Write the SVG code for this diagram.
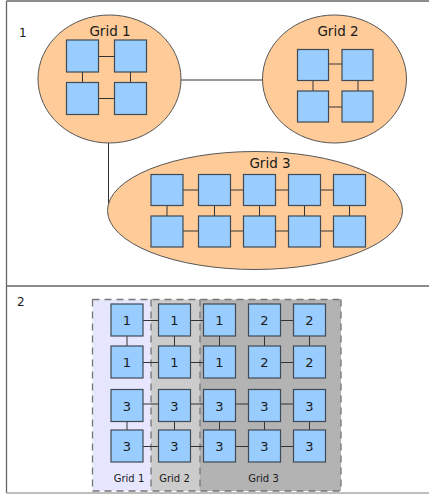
<svg xmlns="http://www.w3.org/2000/svg" width="429" height="494" viewBox="0 0 429 494">
<style>
text{font-family:"DejaVu Sans","Liberation Sans",sans-serif;fill:#1a1a1a;text-anchor:middle}
.frame{fill:none;stroke:#666;stroke-width:1.3}
.grid{fill:#ffcc99;stroke:#555;stroke-width:1}
.sq{fill:#99ccff;stroke:#3f4a55;stroke-width:1.2}
.ln{stroke:#333;stroke-width:1;fill:none}
.gl{font-size:13.5px}
.num{font-size:13px}
.sec{font-size:12px;text-anchor:start}
.bl{font-size:10px}
.reg{stroke:#777;stroke-width:1.3;stroke-dasharray:7,5}
</style>
<rect x="0" y="0" width="429" height="494" fill="#fff"/>
<g id="frame">
<line class="frame" x1="6.5" y1="1" x2="429" y2="1"/>
<line class="frame" x1="6.5" y1="1" x2="6.5" y2="493"/>
<line class="frame" x1="6.5" y1="286" x2="429" y2="286"/>
<line x1="6.5" y1="493" x2="429" y2="493" stroke="#aaa" stroke-width="1.3"/>
<text class="sec" x="19" y="37">1</text>
<text class="sec" x="17" y="306">2</text>
</g>
<g id="connectors">
<line class="ln" x1="181" y1="80" x2="263" y2="80"/>
<line class="ln" x1="108.5" y1="143" x2="108.5" y2="205"/>
</g>
<g id="grid1">
<ellipse class="grid" cx="109.5" cy="79" rx="71.5" ry="64"/>
<text class="gl" x="110" y="36">Grid 1</text>
<g class="ln"><line x1="98.5" y1="56.5" x2="114.5" y2="56.5"/><line x1="98.5" y1="98.5" x2="114.5" y2="98.5"/><line x1="82.5" y1="72" x2="82.5" y2="82.5"/><line x1="130.5" y1="72" x2="130.5" y2="82.5"/></g>
<rect class="sq" x="66.5" y="40" width="32" height="32"/>
<rect class="sq" x="114.5" y="40" width="32" height="32"/>
<rect class="sq" x="66.5" y="82.5" width="32" height="32"/>
<rect class="sq" x="114.5" y="82.5" width="32" height="32"/>
</g>
<g id="grid2">
<ellipse class="grid" cx="334.5" cy="79" rx="72" ry="64"/>
<text class="gl" x="338" y="36">Grid 2</text>
<g class="ln"><line x1="328.5" y1="64" x2="342" y2="64"/><line x1="328.5" y1="107" x2="342" y2="107"/><line x1="313" y1="80.5" x2="313" y2="91"/><line x1="358" y1="80.5" x2="358" y2="91"/></g>
<rect class="sq" x="297.5" y="49.5" width="31" height="31"/>
<rect class="sq" x="342" y="49.5" width="31" height="31"/>
<rect class="sq" x="297.5" y="91" width="31" height="31"/>
<rect class="sq" x="342" y="91" width="31" height="31"/>
</g>
<g id="grid3">
<ellipse class="grid" cx="255" cy="210.5" rx="147.5" ry="59"/>
<text class="gl" x="270" y="168">Grid 3</text>
<g class="ln">
<line x1="183" y1="190" x2="333.5" y2="190"/>
<line x1="183" y1="231" x2="333.5" y2="231"/>
<line x1="167" y1="205.5" x2="167" y2="216"/>
<line x1="214.5" y1="205.5" x2="214.5" y2="216"/>
<line x1="259.5" y1="205.5" x2="259.5" y2="216"/>
<line x1="304.5" y1="205.5" x2="304.5" y2="216"/>
<line x1="349.5" y1="205.5" x2="349.5" y2="216"/>
</g>
<rect class="sq" x="151" y="174.5" width="32" height="31"/>
<rect class="sq" x="198.5" y="174.5" width="32" height="31"/>
<rect class="sq" x="243.5" y="174.5" width="32" height="31"/>
<rect class="sq" x="288.5" y="174.5" width="32" height="31"/>
<rect class="sq" x="333.5" y="174.5" width="32" height="31"/>
<rect class="sq" x="151" y="216" width="32" height="31"/>
<rect class="sq" x="198.5" y="216" width="32" height="31"/>
<rect class="sq" x="243.5" y="216" width="32" height="31"/>
<rect class="sq" x="288.5" y="216" width="32" height="31"/>
<rect class="sq" x="333.5" y="216" width="32" height="31"/>
</g>
<g id="partition">
<rect x="92.5" y="299.5" width="58.5" height="191.5" fill="#e6e6ff"/>
<rect x="151" y="299.5" width="49" height="191.5" fill="#cccccc"/>
<rect x="200" y="299.5" width="141" height="191.5" fill="#b3b3b3"/>
<g class="reg">
<line x1="92.5" y1="299.5" x2="341" y2="299.5"/>
<line x1="92.5" y1="491" x2="341" y2="491"/>
<line x1="92.5" y1="299.5" x2="92.5" y2="491"/>
<line x1="151" y1="299.5" x2="151" y2="491"/>
<line x1="200" y1="299.5" x2="200" y2="491"/>
<line x1="341" y1="299.5" x2="341" y2="491"/>
</g>
<text class="bl" x="129" y="482">Grid 1</text>
<text class="bl" x="174.5" y="482">Grid 2</text>
<text class="bl" x="263.5" y="482">Grid 3</text>
</g>
<g id="p2-connectors" class="ln">
<line x1="143" y1="320.5" x2="203.5" y2="320.5"/>
<line x1="280.5" y1="320.5" x2="293.5" y2="320.5"/>
<line x1="143" y1="362.5" x2="203.5" y2="362.5"/>
<line x1="280.5" y1="362.5" x2="293.5" y2="362.5"/>
<line x1="143" y1="404" x2="293.5" y2="404"/>
<line x1="143" y1="446.5" x2="293.5" y2="446.5"/>
<line x1="127" y1="336" x2="127" y2="346"/>
<line x1="174.5" y1="336" x2="174.5" y2="346"/>
<line x1="219.5" y1="336" x2="219.5" y2="346"/>
<line x1="264.5" y1="336" x2="264.5" y2="346"/>
<line x1="309.5" y1="336" x2="309.5" y2="346"/>
<line x1="127" y1="421.5" x2="127" y2="430"/>
<line x1="174.5" y1="421.5" x2="174.5" y2="430"/>
<line x1="219.5" y1="421.5" x2="219.5" y2="430"/>
<line x1="264.5" y1="421.5" x2="264.5" y2="430"/>
<line x1="309.5" y1="421.5" x2="309.5" y2="430"/>
</g>
<g id="p2-nodes">
<g id="n11"><rect class="sq" x="111" y="304" width="32" height="32"/><text class="num" x="127" y="325">1</text></g>
<g id="n12"><rect class="sq" x="158.5" y="304" width="32" height="32"/><text class="num" x="174.5" y="325">1</text></g>
<g id="n13"><rect class="sq" x="203.5" y="304" width="32" height="32"/><text class="num" x="219.5" y="325">1</text></g>
<g id="n14"><rect class="sq" x="248.5" y="304" width="32" height="32"/><text class="num" x="264.5" y="325">2</text></g>
<g id="n15"><rect class="sq" x="293.5" y="304" width="32" height="32"/><text class="num" x="309.5" y="325">2</text></g>
<g id="n21"><rect class="sq" x="111" y="346" width="32" height="32"/><text class="num" x="127" y="367">1</text></g>
<g id="n22"><rect class="sq" x="158.5" y="346" width="32" height="32"/><text class="num" x="174.5" y="367">1</text></g>
<g id="n23"><rect class="sq" x="203.5" y="346" width="32" height="32"/><text class="num" x="219.5" y="367">1</text></g>
<g id="n24"><rect class="sq" x="248.5" y="346" width="32" height="32"/><text class="num" x="264.5" y="367">2</text></g>
<g id="n25"><rect class="sq" x="293.5" y="346" width="32" height="32"/><text class="num" x="309.5" y="367">2</text></g>
<g id="n31"><rect class="sq" x="111" y="389.5" width="32" height="32"/><text class="num" x="127" y="410.5">3</text></g>
<g id="n32"><rect class="sq" x="158.5" y="389.5" width="32" height="32"/><text class="num" x="174.5" y="410.5">3</text></g>
<g id="n33"><rect class="sq" x="203.5" y="389.5" width="32" height="32"/><text class="num" x="219.5" y="410.5">3</text></g>
<g id="n34"><rect class="sq" x="248.5" y="389.5" width="32" height="32"/><text class="num" x="264.5" y="410.5">3</text></g>
<g id="n35"><rect class="sq" x="293.5" y="389.5" width="32" height="32"/><text class="num" x="309.5" y="410.5">3</text></g>
<g id="n41"><rect class="sq" x="111" y="430" width="32" height="32"/><text class="num" x="127" y="451">3</text></g>
<g id="n42"><rect class="sq" x="158.5" y="430" width="32" height="32"/><text class="num" x="174.5" y="451">3</text></g>
<g id="n43"><rect class="sq" x="203.5" y="430" width="32" height="32"/><text class="num" x="219.5" y="451">3</text></g>
<g id="n44"><rect class="sq" x="248.5" y="430" width="32" height="32"/><text class="num" x="264.5" y="451">3</text></g>
<g id="n45"><rect class="sq" x="293.5" y="430" width="32" height="32"/><text class="num" x="309.5" y="451">3</text></g>
</g>
</svg>
